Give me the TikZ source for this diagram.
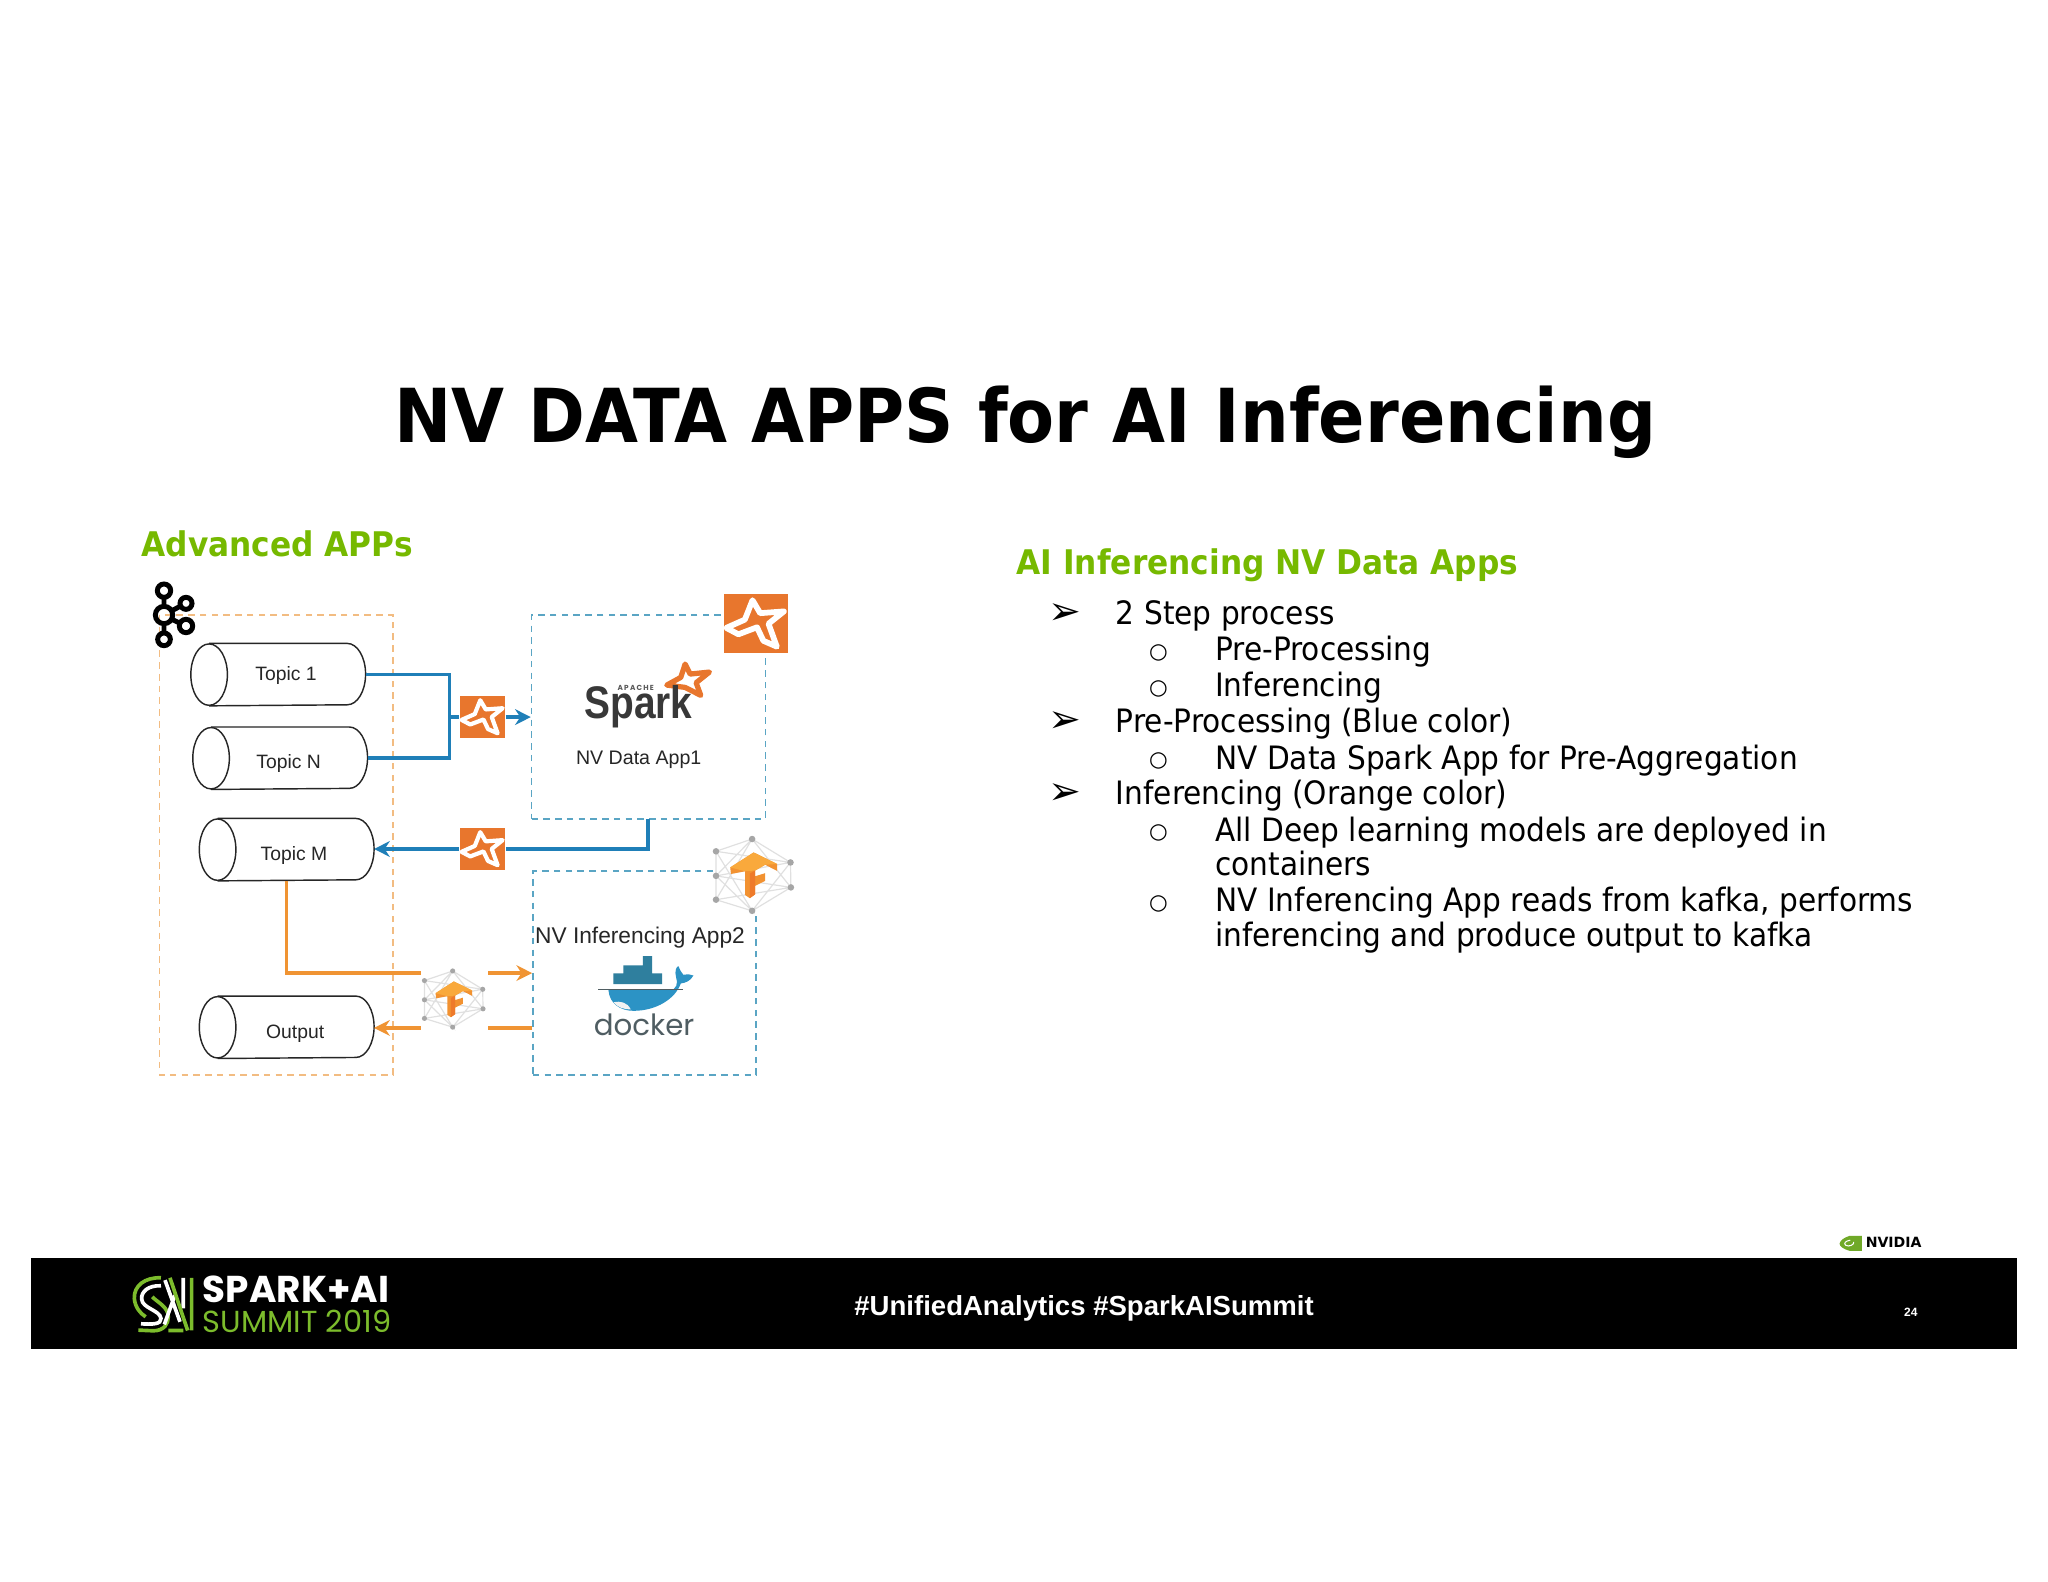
\documentclass[tikz,border=0pt]{standalone}
\usepackage{fontspec}
\usetikzlibrary{arrows.meta,calc}
\setmainfont[FakeStretch=0.92]{DejaVu Sans}
\newfontfamily\plainfont{DejaVu Sans}
\newfontfamily\diagfont{Liberation Sans}
\newfontfamily\sparkfont[FakeStretch=0.85]{Liberation Sans}
\newfontfamily\logofont{Poppins}
\definecolor{nvgreen}{HTML}{76B900}
\definecolor{flowblue}{HTML}{1F7FB8}
\definecolor{floworange}{HTML}{F09433}
\definecolor{dashblue}{HTML}{5AA5C4}
\definecolor{dashorange}{HTML}{F2BC82}
\definecolor{sparkorange}{HTML}{E8762D}
\definecolor{dockerblue}{HTML}{2C93C5}
\definecolor{dockerteal}{HTML}{2F7F9E}
\definecolor{dockergrey}{HTML}{4F5D62}
\definecolor{summitgreen}{HTML}{7CBC2C}
\definecolor{tflight}{HTML}{F9A93C}
\definecolor{tfmid}{HTML}{F29231}
\definecolor{tfdark}{HTML}{EE7A2B}
\tikzset{
  titletext/.style={inner sep=0pt,anchor=base,font=\bfseries\fontsize{28.5}{30}\selectfont,text=black},
  headtext/.style={inner sep=0pt,anchor=base west,font=\bfseries\fontsize{13}{15}\selectfont,text=nvgreen},
  listtext/.style={inner sep=0pt,anchor=base west,font=\fontsize{12.33}{14}\selectfont,text=black},
  arrowbullet/.style={inner sep=0pt,anchor=base,font=\plainfont\fontsize{15}{17}\selectfont,text=black},
  ringbullet/.style={inner sep=0pt,anchor=base,font=\plainfont\fontsize{8.2}{10}\selectfont,text=black},
  diagtext/.style={inner sep=0pt,anchor=base,font=\diagfont\fontsize{7.4}{9}\selectfont,text=black!85},
  apptext/.style={inner sep=0pt,anchor=base,font=\diagfont\fontsize{7.5}{9}\selectfont,text=black!85},
  kafkabox/.style={draw=dashorange,line width=0.6pt,dash pattern=on 2.5pt off 2pt},
  appbox/.style={draw=dashblue,line width=0.6pt,dash pattern=on 2.5pt off 2pt},
  cylbox/.style={inner sep=0pt,minimum width=66.5pt,minimum height=23.5pt},
  cylline/.style={draw=black!85,line width=0.55pt},
  blueflow/.style={draw=flowblue,line width=1.35pt},
  orangeflow/.style={draw=floworange,line width=1.35pt},
  flowtip/.style={-{Stealth[length=6pt,width=6pt]}},
  staricon/.style={fill=sparkorange,inner sep=0pt},
  tficonbg/.style={circle,fill=white,inner sep=0pt},
}
\newcommand\topiccyl[3]{%
  \node[cylbox] (#1) at (#2,#3) {};
  \draw[cylline] ([xshift=7pt]#1.north west) -- ([xshift=-7pt]#1.north east)
    arc[x radius=7pt,y radius=11.75pt,start angle=90,end angle=-90]
    -- ([xshift=7pt]#1.south west);
  \draw[cylline] ([xshift=7pt]#1.west) ellipse[x radius=7pt,y radius=11.75pt];
}
\newcommand\sparkicon[6]{%
  \node[staricon,minimum width=#4pt,minimum height=#5pt] (#1) at (#2,#3) {};
  \begin{scope}[shift={(#1.north west)},x=#4pt,y=-#5pt]
    \draw[white,line width=#6pt,line join=round,line cap=round]
      (0.46,0.11) -- (0.58,0.33) -- (0.95,0.30) -- (0.71,0.51) -- (0.84,0.90)
      -- (0.63,0.80) -- (0.53,0.57) -- (0.24,0.69) -- (0.05,0.58) -- (0.34,0.44) -- cycle;
  \end{scope}
}
\newcommand\tficon[4]{%
  \node[tficonbg,minimum size=#4*2pt] (#1) at (#2,#3) {};
  \begin{scope}[shift={(#1.center)},x=#4pt,y=-#4pt]
    \coordinate (n1) at (-0.04,-0.94); \coordinate (n2) at (-0.98,-0.62);
    \coordinate (n3) at (0.96,-0.33);  \coordinate (n4) at (-0.98,0.02);
    \coordinate (n5) at (0.97,0.32);   \coordinate (n6) at (-0.98,0.64);
    \coordinate (n7) at (-0.04,0.93);
    \draw[black!12,line width=0.45pt]
      (n1)--(n2)--(n4)--(n6)--(n7)--(n5)--(n3)--(n1)
      (n2)--(n7)--(n4)--(n1)--(n5) (n6)--(n1) (n3)--(n7) (n2)--(n3) (n6)--(n5) (n4)--(n3) (n4)--(n5);
    \foreach \p in {n1,n2,n3,n4,n5,n6,n7}
      \fill[black!35] (\p) circle[radius=0.085];
    \fill[tfmid]
      (-0.61,-0.20) -- (0,-0.59) -- (0.61,-0.29) -- (0.61,-0.11) -- (0.30,-0.27)
      -- (0.04,-0.12) -- (0.04,0.03) -- (0.30,-0.05) -- (0.30,0.15) -- (0.04,0.28)
      -- (0.04,0.50) -- (-0.10,0.60) -- (-0.22,0.52) -- (-0.22,-0.10) -- (-0.59,-0.03) -- cycle;
    \fill[tflight]
      (-0.61,-0.20) -- (0,-0.59) -- (0.61,-0.29) -- (0.30,-0.27) -- (0.04,-0.12) -- (-0.22,-0.10) -- cycle;
    \fill[tfdark] (0.04,-0.12) -- (0.04,0.50) -- (-0.10,0.60) -- (-0.10,-0.04) -- cycle;
  \end{scope}
}
\begin{document}
\begin{tikzpicture}[x=0.5pt,y=-0.5pt]
\useasboundingbox (0,0) rectangle (1568,1211);
\fill[white] (0,0) rectangle (1568,1211);

% Title and headings
\node[titletext] (title) at (785,339) {NV DATA APPS for AI Inferencing};
\node[headtext] (advanced) at (108,426) {Advanced APPs};
\node[headtext] (aihead) at (778,440) {AI Inferencing NV Data Apps};

% Right list
\node[arrowbullet] (b1) at (815,478) {➢};
\node[listtext] (l1) at (854,478) {2 Step process};
\node[ringbullet] (b2) at (887,504) {○};
\node[listtext] (l2) at (930,506) {Pre-Processing};
\node[ringbullet] (b3) at (887,532) {○};
\node[listtext] (l3) at (930,533) {Inferencing};
\node[arrowbullet] (b4) at (815,561) {➢};
\node[listtext] (l4) at (854,561) {Pre-Processing (Blue color)};
\node[ringbullet] (b5) at (887,587) {○};
\node[listtext] (l5) at (930,589) {NV Data Spark App for Pre-Aggregation};
\node[arrowbullet] (b6) at (815,616) {➢};
\node[listtext] (l6) at (854,616) {Inferencing (Orange color)};
\node[ringbullet] (b7) at (887,642) {○};
\node[listtext] (l7) at (930,644) {All Deep learning models are deployed in};
\node[listtext] (l8) at (930,670) {containers};
\node[ringbullet] (b8) at (887,696) {○};
\node[listtext] (l9) at (930,698) {NV Inferencing App reads from kafka, performs};
\node[listtext] (l10) at (930,725) {inferencing and produce output to kafka};

% Dashed boxes
\draw[kafkabox] (122,471) rectangle (301,823);
\node[appbox,minimum width=89.5pt,minimum height=78pt,inner sep=0pt] (app1) at (496.5,549) {};
\node[appbox,minimum width=85.5pt,minimum height=78pt,inner sep=0pt] (app2) at (493.5,745) {};

% Kafka logo
\begin{scope}[shift={(107.2,436.4)},x=0.1276pt,y=-0.1276pt]
  \draw[black,line width=1.9pt]
    (72,82) -- (72,109) (72,161) -- (72,189) (96,122) -- (122,108) (96,148) -- (120,160)
    (72,62) circle[radius=20] (72,135) circle[radius=26]
    (138,100) circle[radius=18] (138,168) circle[radius=20] (72,208) circle[radius=19];
\end{scope}

% Topics
\topiccyl{t1}{213}{516.5}
\topiccyl{tn}{214.5}{580.5}
\topiccyl{tm}{219.5}{650.5}
\topiccyl{tout}{219.5}{786.5}
\node[diagtext] (t1l) at (219,521) {Topic 1};
\node[diagtext] (tnl) at (221,588) {Topic N};
\node[diagtext] (tml) at (225,659) {Topic M};
\node[diagtext] (toutl) at (226,795) {Output};

% Icons
\sparkicon{s1}{369.5}{549}{17.5}{16}{1.6}
\sparkicon{s2}{369.5}{650}{17.5}{16}{1.6}
\sparkicon{s3}{578.5}{477.5}{24.5}{22.5}{2.2}
\tficon{tfa}{347.5}{765}{11.5}
\tficon{tfb}{577}{670}{14.7}

% Connectors
\coordinate (junction) at (344,549);
\coordinate (app1out) at (496,627);
\coordinate (tfin) at (322,745);
\coordinate (tfinout) at (374,745);
\coordinate (tfback) at (374,787);
\coordinate (tfoutl) at (322,787);
\draw[blueflow] (t1.east) -| (junction);
\draw[blueflow] (tn.east) -| (junction);
\draw[blueflow] (junction) -- (s1.west);
\draw[blueflow,flowtip] (s1.east) -- (app1.west |- s1.east);
\draw[blueflow] (app1out) |- (s2.east);
\draw[blueflow,flowtip] (s2.west) -- (tm.east |- s2.west);
\draw[orangeflow] (tm.south) |- (tfin);
\draw[orangeflow,flowtip] (tfinout) -- (app2.west |- tfinout);
\draw[orangeflow] (app2.west |- tfback) -- (tfback);
\draw[orangeflow,flowtip] (tfoutl) -- (tout.east |- tfoutl);

% Spark logo
\begin{scope}[shift={(436.5,497.7)},x=0.1276pt,y=-0.1276pt]
  \draw[sparkorange,fill=white,line width=2pt,line join=round]
    (345,42) -- (360,72) -- (418,66) -- (378,98) -- (392,136) -- (345,112) -- (290,105) -- (332,82) -- cycle;
  \node[inner sep=0pt,font=\logofont\bfseries\fontsize{2.8}{3}\selectfont,text=black!65] (apache) at (197,114) {A\,P\,A\,C\,H\,E};
  \node[inner sep=0pt,anchor=base,font=\sparkfont\bfseries\fontsize{17.5}{19}\selectfont,text=black!78] (sparkword) at (205,205) {Spark};
\end{scope}
\node[apptext] (app1l) at (489,585) {NV Data App1};

% Docker logo
\node[apptext,font=\diagfont\fontsize{8.7}{10}\selectfont] (app2l) at (490,722) {NV Inferencing App2};
\begin{scope}[shift={(436.5,719.8)},x=0.1276pt,y=-0.1276pt]
  \fill[dockerteal] (218,48) rectangle (246,132) (160,76) rectangle (218,132) (130,100) rectangle (276,132);
  \fill[dockerblue] (115,150) -- (300,150) .. controls (318,150) and (325,128) .. (318,112)
    .. controls (312,92) and (320,78) .. (325,78) .. controls (330,90) and (334,98) .. (340,104)
    .. controls (352,102) and (362,102) .. (370,106) .. controls (360,124) and (345,128) .. (332,130)
    .. controls (316,175) and (260,212) .. (190,212) .. controls (150,212) and (118,190) .. (115,150) -- cycle;
  \fill[black!5] (130,186) .. controls (150,182) and (172,186) .. (182,208) .. controls (160,208) and (140,200) .. (130,186) -- cycle;
  \draw[dockergrey,line width=0.6pt] (85,148) -- (340,148);
  \node[inner sep=0pt,anchor=base,font=\logofont\fontsize{11.2}{13}\selectfont,text=dockergrey] (dockerword) at (222,286) {docker};
\end{scope}

% Footer
\node[fill=black,minimum width=760pt,minimum height=35pt,inner sep=0pt] (footer) at (784,998) {};
\node[inner sep=0pt,anchor=base,font=\diagfont\bfseries\fontsize{10.55}{12}\selectfont,text=white] (tags) at (830,1007) {\#UnifiedAnalytics \#SparkAISummit};
\node[inner sep=0pt,anchor=base,font=\diagfont\bfseries\fontsize{4.6}{5}\selectfont,text=white] (pagenum) at (1463,1008) {24};
\node[inner sep=0pt,anchor=base west,font=\logofont\bfseries\fontsize{14.3}{15}\selectfont,text=white] (sparkai) at (155,997) {SPARK+AI};
\node[inner sep=0pt,anchor=base west,font=\logofont\fontsize{11.65}{13}\selectfont,text=summitgreen] (summit) at (155,1020) {SUMMIT 2019};

% Summit logo
\begin{scope}[shift={(95.7,968.6)},x=0.1276pt,y=-0.1276pt]
  \draw[summitgreen,line width=1.4pt] (108,38) .. controls (60,36) and (26,62) .. (28,100) .. controls (30,125) and (45,145) .. (62,155);
  \draw[white,line width=1.4pt] (108,62) .. controls (70,60) and (48,80) .. (50,102) .. controls (52,130) and (105,135) .. (108,160) .. controls (110,178) and (80,178) .. (48,176);
  \draw[summitgreen,line width=1.4pt] (40,195) -- (85,197) .. controls (118,197) and (130,175) .. (130,155) .. controls (130,125) and (95,110) .. (82,95);
  \draw[white,line width=1.4pt] (120,45) -- (165,170) (175,38) -- (175,130) (118,178) -- (150,90);
  \draw[summitgreen,line width=1.4pt] (200,38) -- (200,196) (135,38) -- (188,196) (130,196) -- (175,196);
\end{scope}

% NVIDIA logo
\begin{scope}[shift={(1378.3,934.2)},x=0.1276pt,y=-0.1276pt]
  \fill[summitgreen!90!black] (148,47) -- (185,47) -- (185,92) -- (148,92) .. controls (128,86) and (118,78) .. (118,70) .. controls (120,60) and (132,52) .. (148,47) -- cycle;
  \draw[white,line width=0.4pt] (150,60) .. controls (135,62) and (130,70) .. (136,75) .. controls (145,82) and (165,72) .. (160,65);
  \node[inner sep=0pt,anchor=base west,font=\plainfont\bfseries\fontsize{5.4}{6}\selectfont,text=black] (nvidia) at (195,83) {NVIDIA};
\end{scope}
\end{tikzpicture}
\end{document}
